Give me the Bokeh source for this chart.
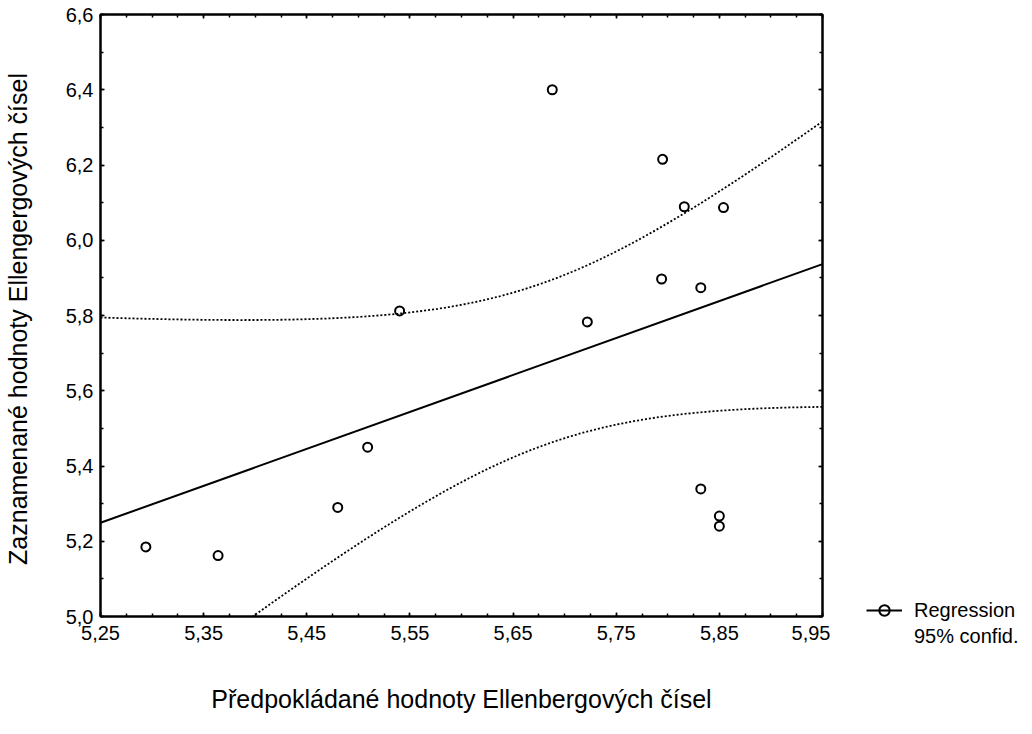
import numpy as np
from bokeh.plotting import figure
from bokeh.layouts import row, column
from bokeh.models import (FixedTicker, CustomJSTickFormatter, CustomLabelingPolicy,
                          LinearAxis, Legend, LegendItem, Range1d)
from bokeh.embed import file_html
from bokeh.resources import INLINE

# ---- data ----
x_pred = [5.294, 5.364, 5.480, 5.509, 5.540, 5.688, 5.722, 5.794,
          5.795, 5.816, 5.832, 5.832, 5.850, 5.850, 5.854]
y_obs = [5.185, 5.162, 5.290, 5.450, 5.812, 6.400, 5.783, 5.897,
         6.215, 6.089, 5.874, 5.339, 5.267, 5.240, 6.087]

x_ticks = [5.25, 5.35, 5.45, 5.55, 5.65, 5.75, 5.85, 5.95]
x_tick_labels = ["5,25", "5,35", "5,45", "5,55", "5,65", "5,75", "5,85", "5,95"]
y_ticks = [5.0, 5.2, 5.4, 5.6, 5.8, 6.0, 6.2, 6.4, 6.6]
y_tick_labels = ["5,0", "5,2", "5,4", "5,6", "5,8", "6,0", "6,2", "6,4", "6,6"]

x_title = "Předpokládané hodnoty Ellenbergových čísel"
y_title = "Zaznamenané  hodnoty Ellengergových čísel"
legend_labels = ["Regression", "95% confid."]

FONT = "Liberation Sans"

# ---- regression and 95% confidence band of the mean ----
xa = np.array(x_pred)
ya = np.array(y_obs)
n = len(xa)
xm, ym = xa.mean(), ya.mean()
sxx = ((xa - xm) ** 2).sum()
b = ((xa - xm) * (ya - ym)).sum() / sxx
a = ym - b * xm
s = np.sqrt(((ya - (a + b * xa)) ** 2).sum() / (n - 2))
t975 = 2.1604  # Student t, 13 df
xs = np.linspace(x_ticks[0], x_ticks[-1], 200)
fit = a + b * xs
half = t975 * s * np.sqrt(1.0 / n + (xs - xm) ** 2 / sxx)

p = figure(width=830, height=720,
           x_range=Range1d(x_ticks[0], x_ticks[-1]),
           y_range=Range1d(y_ticks[0], y_ticks[-1]),
           output_backend="svg", toolbar_location=None,
           min_border_left=96, min_border_right=8,
           min_border_top=14, min_border_bottom=104)
p.grid.visible = False
p.outline_line_color = "black"
p.outline_line_width = 2
p.background_fill_color = "white"
p.border_fill_color = "white"

x_minor = [float(v) for v in np.round(np.arange(5.25, 5.9501, 0.025), 4)]
y_minor = [float(v) for v in np.round(np.arange(5.0, 6.6001, 0.1), 4)]

def fmt(tvals, tlabels):
    return CustomJSTickFormatter(args=dict(tvals=tvals, tlabels=tlabels), code="""
        for (let i = 0; i < tvals.length; i++) {
            if (Math.abs(tvals[i] - tick) < 1e-6) { return tlabels[i]; }
        }
        return '';
    """)

def style(ax, ticks, minor):
    ax.ticker = FixedTicker(ticks=ticks, minor_ticks=minor)
    ax.major_tick_in = 4
    ax.major_tick_out = 0
    ax.minor_tick_in = 3
    ax.minor_tick_out = 0
    ax.axis_line_color = "black"
    ax.axis_line_width = 2
    ax.major_tick_line_color = "black"
    ax.major_tick_line_width = 1.5
    ax.minor_tick_line_color = "black"
    ax.minor_tick_line_width = 1.5
    ax.major_label_text_font = FONT
    ax.major_label_text_font_size = "20px"
    ax.major_label_text_color = "black"
    ax.axis_label_text_font = FONT
    ax.axis_label_text_font_style = "normal"
    ax.axis_label_text_color = "black"

def hide_labels(ax):
    ax.formatter = CustomJSTickFormatter(code="return '';")
    ax.major_label_policy = CustomLabelingPolicy(code="""
        for (const i of indices) { indices.unset(i); }
        return indices;
    """)
    ax.major_label_text_font_size = "8px"
    ax.major_label_standoff = 0

xb = p.xaxis[0]
style(xb, x_ticks, x_minor)
xb.formatter = fmt(x_ticks, x_tick_labels)
xb.major_label_standoff = 9
xb.axis_label = x_title
xb.axis_label_text_font_size = "25px"
xb.axis_label_standoff = 42

yl = p.yaxis[0]
style(yl, y_ticks, y_minor)
yl.formatter = fmt(y_ticks, y_tick_labels)
yl.major_label_standoff = 7
yl.axis_label = y_title
yl.axis_label_text_font_size = "25px"
yl.axis_label_standoff = 31

top = LinearAxis()
style(top, x_ticks, x_minor)
hide_labels(top)
p.add_layout(top, "above")

right = LinearAxis()
style(right, y_ticks, y_minor)
hide_labels(right)
p.add_layout(right, "right")

# confidence band
p.line(xs, fit + half, line_color="black", line_width=1.8, line_dash="2 2")
p.line(xs, fit - half, line_color="black", line_width=1.8, line_dash="2 2")
# regression line
p.line([xs[0], xs[-1]], [fit[0], fit[-1]], line_color="black", line_width=2)
# points
p.scatter(x_pred, y_obs, marker="circle", size=9, fill_color=None,
          line_color="black", line_width=2)

# ---- legend panel to the right of the plot ----
lg = figure(width=190, height=720, x_range=Range1d(0, 1), y_range=Range1d(0, 1),
            output_backend="svg", toolbar_location=None,
            x_axis_type=None, y_axis_type=None,
            min_border_left=0, min_border_right=0,
            min_border_top=14, min_border_bottom=71)
lg.grid.visible = False
lg.outline_line_color = None
lg.background_fill_color = "white"
lg.border_fill_color = "white"
# same series, out of this panel's view: used only for the legend symbols
lg_line = lg.line([xs[0], xs[-1]], [fit[0], fit[-1]], line_color="black", line_width=2)
lg_pts = lg.scatter(x_pred, y_obs, marker="circle", size=9, fill_color=None,
                    line_color="black", line_width=2)
lg_none = lg.line([xs[0], xs[-1]], [fit[0], fit[-1]], line_alpha=0)

legend = Legend(items=[LegendItem(label=legend_labels[0], renderers=[lg_line, lg_pts]),
                       LegendItem(label=legend_labels[1], renderers=[lg_none])],
                location=(36, 0), orientation="vertical",
                padding=0, margin=0, spacing=0,
                glyph_width=36, glyph_height=26, label_height=26,
                label_standoff=12,
                label_text_font=FONT, label_text_font_size="20px",
                label_text_color="black",
                background_fill_alpha=0, border_line_alpha=0)
lg.add_layout(legend)

layout = row(p, column(lg), spacing=0)
open("out.html", "w").write(file_html(layout, INLINE))
